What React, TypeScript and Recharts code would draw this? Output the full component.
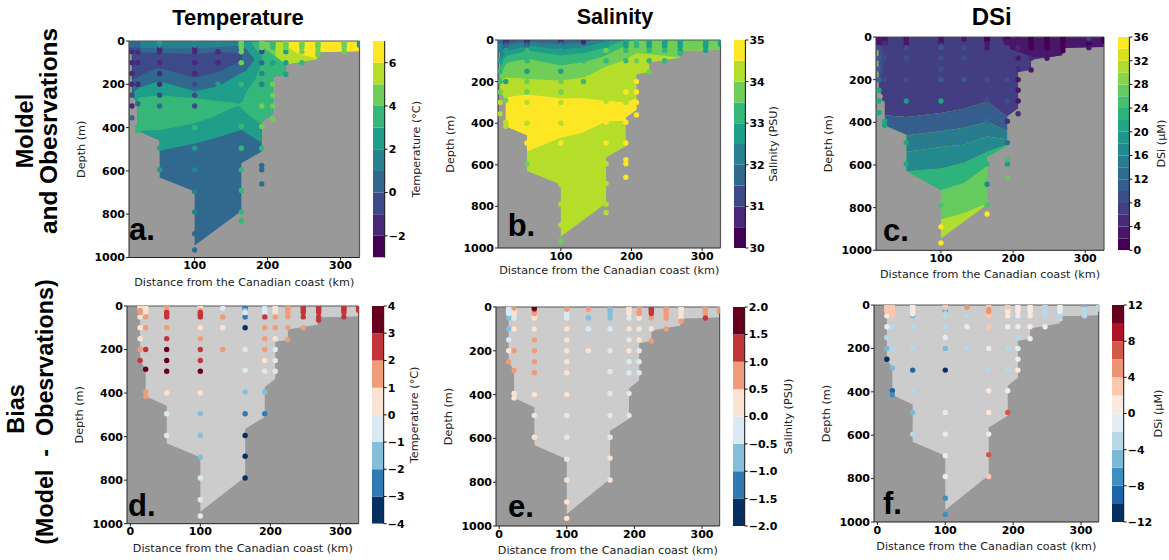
import React from 'react';
import { ComposedChart, Area, Scatter, XAxis, YAxis, ZAxis, CartesianGrid, ReferenceLine } from 'recharts';

const viridis10 = ['#440154', '#482878', '#3e4989', '#31688e', '#26828e', '#1f9e89', '#35b779', '#6ece58', '#b5de2b', '#fde725'];
const viridis18 = ['#440154', '#481769', '#472a7a', '#433d84', '#3d4e8a', '#355e8d', '#2e6d8e', '#297b8e', '#23898e', '#1f978b', '#21a585', '#2eb37c', '#46c06f', '#65cb5e', '#89d548', '#b0dd2f', '#d8e219', '#fde725'];
const rdbu8 = ['#053061', '#2f79b5', '#86bdda', '#dbeaf2', '#fbe3d4', '#f09c7b', '#c13639', '#67001f'];
const rdbu12 = ['#053061', '#1f63a8', '#3f8ec0', '#7eb8d7', '#b8d8e8', '#e4eef4', '#fae9df', '#fbc8af', '#ed9477', '#d25849', '#ae1328', '#67001f'];

const tempLevels = [-3, -2, -1, 0, 1, 2, 3, 4, 5, 6, 7];
const salLevels = [30, 30.5, 31, 31.5, 32, 32.5, 33, 33.5, 34, 34.5, 35];
const dsiLevels = [0, 2, 4, 6, 8, 10, 12, 14, 16, 18, 20, 22, 24, 26, 28, 30, 32, 34, 36];
const tempBiasLevels = [-4, -3, -2, -1, 0, 1, 2, 3, 4];
const salBiasLevels = [-2, -1.5, -1, -0.5, 0, 0.5, 1, 1.5, 2];
const dsiBiasLevels = [-12, -10, -8, -6, -4, -2, 0, 2, 4, 6, 8, 10, 12];

const tempTicks = [-2, 0, 2, 4, 6];
const salTicks = [30, 31, 32, 33, 34, 35];
const dsiTicks = [0, 4, 8, 12, 16, 20, 24, 28, 32, 36];
const tempBiasTicks = [-4, -3, -2, -1, 0, 1, 2, 3, 4];
const salBiasTicks = [-2, -1.5, -1, -0.5, 0, 0.5, 1, 1.5, 2];
const dsiBiasTicks = [-12, -8, -4, 0, 4, 8, 12];
const depthTicks = [0, 200, 400, 600, 800, 1000];
const kmTicksTop = [100, 200, 300];
const kmTicksBottom = [0, 100, 200, 300];

const stationKm = [14, 22, 52, 100, 132, 164, 192, 207, 225, 247, 269, 305, 326];
const stationDepths = [
  [5, 10, 20, 30, 50, 100, 150, 200, 250, 300, 355],
  [5, 10, 20, 30, 50, 100, 200, 290, 395, 415],
  [5, 10, 20, 30, 40, 50, 100, 150, 200, 250, 300, 400, 495, 595],
  [5, 10, 20, 30, 40, 50, 100, 150, 200, 250, 300, 400, 495, 595, 695, 790, 890, 965],
  [10, 50, 100, 200],
  [5, 10, 20, 30, 50, 100, 200, 295, 395, 495, 595, 690, 790, 830],
  [5, 10, 20, 30, 50, 100, 150, 200, 250, 300, 395, 495, 575, 595, 660],
  [5, 10, 20, 30, 50, 100, 150, 200, 250, 300, 360],
  [5, 10, 20, 30, 50, 100, 155],
  [5, 10, 20, 30, 50, 100],
  [5, 10, 20, 30, 50, 65],
  [5, 10, 20, 30, 50],
  [5, 10, 20],
];

const n = null;
const tempObs = [
  [.5, .5, 0, -.5, -1.5, -1.5, -1.5, -1.5, -.5, -1.5, .5],
  [.5, .5, 0, -.5, -1.5, -1.5, -1.5, .5, 3.5, 3.5],
  [2, 2, 1.5, -1.5, -1.5, -1.5, -1.5, -1.5, -1.5, -.5, 0, 3.5, 2.5, 2.5],
  [1.5, 1.5, 1, -1.5, -1.5, -1.5, -1.5, -1.5, -.5, -.5, -.5, 3.5, 2.5, 1.5, 1.5, 1.5, .5, .5],
  [1.5, -1.5, -1.5, 2.5],
  [4.5, 4.5, 4.5, 4.5, 4.5, 4.5, 3.5, 3.5, 3.5, 3.5, 3.5, 3.5, 3.5, 3.5],
  [4.5, 4.5, 4.5, 4.5, -.5, .5, 1.5, 1.5, n, 4.5, 4.5, 3.5, .5, .5, .5],
  [3.5, 3.5, 3.5, 3.5, n, 2.5, n, 4.5, 4.5, 4.5, 4.5],
  [4.5, 4.5, 4.5, 4.5, 2.5, 2.5, 2.5],
  [4.5, 4.5, 4.5, 4.5, 4.5, 3.5],
  [4.5, 4.5, 4.5, 4.5, 4.5, 4.5],
  [4.5, 4.5, 4.5, 4.5, 4.5],
  [2.5, 2.5, 2.5],
];
const salObs = [
  [31.5, 31.5, 31.8, 32, 32.3, 32.7, 33.3, 33.3, 33.7, 34.2, 34.2],
  [30.7, 30.7, 31, 31.5, 32.8, 33.3, 32.8, 33.8, 34.2, 34.2],
  [30.7, 30.7, 31, 31.5, 32.3, 33, 33.3, 32.8, 33.7, 33.7, 34.2, 34.2, 34.7, 33.7],
  [30.7, 30.7, 31.5, 32, 32.3, 32.7, 33.2, 32.8, 33.7, 33.7, 34.2, 34.2, 34.7, 34.2, 34.2, 34.2, 34.2, 33.8],
  [30.7, 32.7, 33.2, 33.3],
  [32, 32.2, 32.5, 32.7, 33.8, 33.3, 34.2, 34.2, 34.7, 34.7, 34.2, 34.2, 34.2, 34.2],
  [32.8, 32.8, 32.8, 32.8, 33.3, 33.2, n, n, 34.7, 34.2, 34.7, 34.7, 34.7, 34.7, 34.7],
  [33.3, 33.3, 33.3, 33.3, 33.5, 33.7, n, 34.7, 34.7, 34.7, 34.7],
  [32.7, 32.7, 32.7, 32.7, 33.3, 33.3, 33.7],
  [32.7, 32.7, 32.7, 32.7, 33.3, 33.3],
  [32.8, 32.8, 32.8, 32.8, 32.8, 33.2],
  [32.7, 32.7, 32.7, 32.7, 32.7],
  [32.5, 32.5, 32.5],
];
const dsiObs = [
  [3, 3, 3, 3, 9, 11, 11, 13, 20, 20, 20],
  [3, 3, 3, 5, 7, 9, 9, 7, 20, 20],
  [3, 3, 3, 3, 3, 9, 9, n, 9, n, 19, n, 20, 20],
  [3, 3, 3, 3, 7, 11, 9, 9, 11, n, 20, n, n, n, n, 24, 35, 35],
  [3, 9, 9, 11],
  [1, 1, 1, 3, 3, 7, 9, 9, 13, 17, 22, 17, 24, 35],
  [1, 1, 3, 3, 7, 7, n, 9, n, 9, 5, 13, 24, 18, 26],
  [3, 3, 3, 3, 5, 3, 5, 3, 3, 3, 5],
  [1, 1, 1, 1, 1, 5, 3],
  [1, 1, 1, 1, 1, 3],
  [1, 1, 1, 1, 1, 1],
  [7, 5, 1, 1, 3],
  [1, 1, 1],
];
const tempBias = [
  [.5, .5, 1.5, 1.5, .5, .5, .5, 1.5, 2.5, n, n],
  [.5, .5, .5, .5, 1.5, 1.5, 2.5, 3.5, 1.5, 1.5],
  [.5, 1, 1.5, 2.5, 2.5, 2.5, 1.5, 2.5, 3.5, 3.5, 3.5, .5, -.5, -.5],
  [.5, .5, 1.5, 2.5, 2.5, 2.5, .5, 1.5, 2.5, 2.5, 3.5, .5, -1.5, -1.5, -1.5, -.5, -.5, -.5],
  [-.5, 1.5, .5, 1.5],
  [-2.5, -2.5, -1.5, -.5, -2.5, -3.5, -.5, -.5, -1.5, -2.5, -3.5, -3.5, -3.5, n],
  [-1.5, -.5, -.5, -.5, 2.5, 1.5, 1.5, 1.5, .5, -.5, -1.5, -2.5, n, n, n],
  [.5, .5, .5, .5, 1.5, 1.5, .5, -.5, -.5, -.5, n],
  [1.5, 1.5, 1.5, 1.5, 1.5, 1.5, 1.5],
  [2.5, 2.5, 2.5, 2.5, 2.5, 1.5],
  [2.5, 2.5, 2.5, 2.5, 2.5, 2.5],
  [2.5, 2.5, 2.5, 2.5, 2.5],
  [2.5, 2.5, 2.5],
];
const salBias = [
  [-.25, -.25, -.25, -.25, -.75, -.75, -.25, .25, .75, n, n],
  [.75, .25, .25, .25, -.25, .25, .75, .75, .25, .25],
  [1.75, 1.25, .75, .75, .25, .25, .25, .75, .75, .75, .75, .25, .25, .25],
  [.75, .75, -.25, -.25, -.25, -.25, .25, .25, .25, .25, .25, .25, -.25, -.25, -.25, .25, .25, .25],
  [.75, -.75, -.25, .25],
  [-.75, -.75, -.75, -.75, -.75, -.25, -.25, -.25, -.25, -.25, -.25, .25, .25, n],
  [-.25, .25, .25, .25, -.25, .25, .25, .25, -.25, -.25, -.25, -.25, n, n, n],
  [.75, .25, .75, .75, .25, .25, .25, -.25, -.25, -.25, n],
  [1.25, 1.25, 1.25, 1.25, .75, .25, .75],
  [.75, .75, .75, .75, .75, .75],
  [.25, .25, .25, .25, .25, .75],
  [.75, .75, .75, .75, 1.25],
  [.75, .75, .75],
];
const dsiBias = [
  [3, 3, 3, 3, 1, -1, -3, -5, -11, n, n],
  [3, 3, 3, 3, 3, -3, -3, -5, -9, -7],
  [1, 1, 1, 1, 1, -5, -3, n, -3, n, -9, -3, -5, -3],
  [3, 3, -5, -7, -3, -3, -3, -1, -5, n, -11, n, -1, -1, -1, -1, -7, -7],
  [5, -3, -1, -3],
  [3, 3, 5, 5, 3, 3, -1, -3, 1, 1, -1, 7, 3, n],
  [1, 3, 1, 1, 1, -1, n, -3, n, -3, 1, 7, n, n, n],
  [1, 1, 1, 1, -1, -1, -3, -1, -1, 1, n],
  [1, 1, 1, 1, 1, 1, -1],
  [-3, -3, -3, -3, -3, -1],
  [-1, -1, -1, -1, -3, -3],
  [-5, -5, -3, -3, -3],
  [-3, -3, -3],
];

// section floor: distance (km), depth (m)
const sectionFloor = [[14, 250], [22, 290], [22, 415], [52, 458], [52, 630], [100, 695], [100, 945], [164, 785], [164, 565], [192, 510], [192, 372], [207, 335], [207, 165], [225, 155], [225, 108], [268, 85], [268, 52], [305, 50], [326, 47]];

// contour bands: distance (km), upper depth, lower depth
const tempTealBand = [[14, 0, 250], [22, 0, 290], [22, 0, 415], [52, 0, 458], [52, 0, 507], [100, 0, 473], [126, 0, 450], [164, 0, 411], [192, 0, 470], [192, 0, 372], [207, 0, 335], [207, 0, 165], [225, 0, 155], [225, 0, 108], [268, 0, 85], [268, 0, 52], [326, 0, 47]];
const tempLens = [[22, 262, 415], [52, 250, 412], [100, 265, 380], [126, 275, 350], [155, 285, 304], [164, 295, 296]];
const tempRightLobe = [[164, 295, 311], [170, 240, 330], [183, 178, 365], [192, 100, 388], [192, 0, 372], [207, 0, 335], [207, 0, 165], [225, 0, 155], [225, 0, 108], [268, 0, 85], [268, 0, 52], [326, 0, 47]];
const tempWedge = [[178, 0, 5], [181, 0, 25], [190, 0, 63], [192, 0, 70]];
const tempFour = [[190, 0, 0], [195, 0, 32], [211, 0, 71], [225, 0, 101], [225, 0, 108], [268, 0, 85], [268, 0, 52], [326, 0, 47]];
const tempFive = [[211, 0, 71], [225, 0, 108], [268, 0, 85], [268, 0, 52], [326, 0, 47]];
const tempSix = [[227, 0, 0], [229, 0, 32], [245, 0, 63], [268, 0, 80], [268, 0, 52], [326, 0, 47]];
const tempCold = [[14, 28, 245], [23, 30, 217], [51, 32, 186], [101, 32, 232], [133, 28, 209], [150, 22, 175], [165, 20, 145], [170, 35, 140], [181, 80, 92]];
const tempCore = [[14, 62, 180], [23, 55, 165], [32, 52, 148], [51, 55, 125], [101, 60, 170], [133, 50, 143], [156, 55, 105], [165, 65, 85]];
const tempSurface = [[14, 0, 30], [52, 0, 33], [100, 0, 33], [150, 0, 24], [172, 0, 0]];

const salSaltCore = [[22, 275, 415], [52, 262, 458], [52, 262, 536], [100, 280, 470], [131, 280, 445], [164, 292, 392], [192, 300, 388], [192, 300, 372], [207, 280, 335]];
const sal335 = [[14, 0, 200], [22, 0, 180], [53, 0, 187], [100, 0, 195], [133, 0, 180], [161, 0, 132], [192, 0, 94], [208, 0, 62], [267, 0, 83], [268, 0, 52], [326, 0, 47]];
const sal330 = [[14, 0, 170], [23, 0, 110], [54, 0, 90], [100, 0, 123], [133, 0, 106], [161, 0, 78], [187, 0, 35], [199, 0, 0]];
const sal325 = [[14, 0, 130], [23, 0, 78], [54, 0, 51], [100, 0, 74], [133, 0, 62], [161, 0, 38], [185, 0, 6], [190, 0, 0]];
const sal320 = [[14, 0, 95], [23, 0, 54], [54, 0, 26], [100, 0, 46], [133, 0, 34], [161, 0, 10], [168, 0, 0]];
const sal315 = [[14, 0, 60], [23, 0, 22], [54, 0, 10], [100, 0, 22], [133, 0, 10], [150, 0, 0]];
const sal310 = [[14, 0, 40], [23, 0, 15], [40, 0, 0]];

const dsi26 = [[100, 719, 856], [132, 684, 825], [164, 605, 781]];
const dsi22 = [[52, 630, 630], [100, 617, 719], [132, 589, 684], [164, 539, 605], [164, 539, 565], [192, 505, 510]];
const dsi18 = [[52, 539, 630], [100, 516, 617], [132, 505, 589], [164, 466, 539], [192, 481, 505]];
const dsi14 = [[52, 461, 539], [100, 442, 516], [132, 425, 505], [164, 398, 466], [192, 441, 481]];
const dsi10 = [[22, 367, 415], [52, 375, 458], [52, 375, 461], [100, 356, 442], [132, 336, 425], [164, 302, 398], [192, 375, 441]];
const dsi6 = [[14, 0, 250], [22, 0, 290], [22, 0, 367], [52, 0, 375], [100, 0, 356], [132, 0, 336], [164, 0, 302], [192, 0, 375], [192, 0, 372], [207, 0, 335], [207, 0, 165], [225, 0, 155], [225, 0, 108], [268, 0, 85], [268, 0, 52], [326, 0, 47]];
const dsiCoastStrip = [[14, 15, 235], [17, 50, 190], [20, 75, 130], [22, 97, 100]];
const dsiCoastTop = [[14, 0, 40], [26, 0, 40]];
const dsiShelfTop = [[184, 0, 3], [191, 0, 50], [223, 0, 89], [225, 0, 95], [247, 0, 96], [268, 0, 85], [268, 0, 52], [326, 0, 47]];

const fromFloor = (floor: number[][]) => floor.map(([x, d]) => [x, 0, d]);
const section = fromFloor(sectionFloor);

const v = viridis10;
const tempBands = [
  { fill: v[3], pts: section }, { fill: v[5], pts: tempTealBand }, { fill: v[6], pts: tempLens },
  { fill: v[6], pts: tempRightLobe }, { fill: v[6], pts: tempWedge }, { fill: v[7], pts: tempFour },
  { fill: v[8], pts: tempFive }, { fill: v[9], pts: tempSix }, { fill: v[3], pts: tempCold },
  { fill: v[2], pts: tempCore }, { fill: v[4], pts: tempSurface },
];
const salBands = [
  { fill: v[8], pts: section }, { fill: v[9], pts: salSaltCore }, { fill: v[7], pts: sal335 },
  { fill: v[6], pts: sal330 }, { fill: v[5], pts: sal325 }, { fill: v[4], pts: sal320 },
  { fill: v[3], pts: sal315 }, { fill: v[2], pts: sal310 },
];
const w = viridis18;
const dsiBands = [
  { fill: w[15], pts: section }, { fill: w[13], pts: dsi26 }, { fill: w[11], pts: dsi22 },
  { fill: w[8], pts: dsi18 }, { fill: w[7], pts: dsi14 }, { fill: w[5], pts: dsi10 },
  { fill: w[3], pts: dsi6 }, { fill: w[4], pts: dsiCoastStrip }, { fill: w[2], pts: dsiCoastTop }, { fill: w[1], pts: dsiShelfTop },
];
const biasBands = [{ fill: '#cccccc', pts: section }];

const FONT = '"DejaVu Sans", sans-serif';
const bold = { fontSize: 11, fontWeight: 'bold', fill: '#000', fontFamily: FONT };
const KM_LABEL = 'Distance from the Canadian coast (km)';
const labelStyle = { fontSize: 11.2, fill: '#222', fontFamily: FONT };

function Panel({ box, dom, kmTicks, bands, values, levels, colors, xLabelOffset = 10 }: any) {
  const [l, t, pw, ph] = box;
  const groups = colors.map((c: string, i: number) => {
    const pts: any[] = [];
    values.forEach((row: (number | null)[], s: number) => row.forEach((val, k) => {
      if (val === null) return;
      if (val >= levels[i] && (val < levels[i + 1] || i === colors.length - 1)) pts.push({ x: stationKm[s], y: stationDepths[s][k] });
    }));
    return { c, pts };
  }).filter((g: any) => g.pts.length);
  return (
    <div style={{ position: 'absolute', left: l - 60, top: t - 6 }}>
      <ComposedChart width={60 + pw + 6} height={6 + ph + 38} margin={{ top: 6, right: 6, left: 0, bottom: 0 }}>
        <CartesianGrid horizontal={false} vertical={false} fill="#999999" fillOpacity={1} />
        <XAxis type="number" dataKey="x" domain={dom} ticks={kmTicks} interval={0} allowDataOverflow height={38} tick={bold} tickSize={3} tickMargin={1} stroke="#222"
          label={{ value: KM_LABEL, position: 'insideBottom', offset: xLabelOffset, style: labelStyle }} />
        <YAxis type="number" dataKey="y" reversed domain={[0, 1000]} ticks={depthTicks} interval={0} allowDataOverflow width={60} tick={bold} tickSize={3} tickMargin={1} stroke="#222"
          label={{ value: 'Depth (m)', angle: -90, position: 'insideLeft', offset: 12, textAnchor: 'middle', style: labelStyle }} />
        <ZAxis range={[23, 23]} />
        {bands.map((b: any, i: number) => (
          <Area key={i} data={b.pts.map((p: number[]) => ({ x: p[0], r: [p[1], p[2]] }))} dataKey="r" type="linear" fill={b.fill} fillOpacity={1} stroke="none" dot={false} activeDot={false} isAnimationActive={false} />
        ))}
        <ReferenceLine y={0} stroke="#555" strokeWidth={1.2} />
        <ReferenceLine x={dom[1]} stroke="#555" strokeWidth={1.2} />
        {groups.map((g: any, i: number) => (
          <Scatter key={i} data={g.pts} fill={g.c} isAnimationActive={false} />
        ))}
      </ComposedChart>
    </div>
  );
}

function ColorBar({ box, levels, colors, ticks, title, labelOffset }: any) {
  const [l, t, bw, bh] = box;
  const fmt = (x: number) => {
    const s = Number.isInteger(x) && !ticks.some((k: number) => !Number.isInteger(k)) ? String(Math.abs(x)) : Math.abs(x).toFixed(1);
    return (x < 0 ? '\u2212' : '') + s;
  };
  return (
    <div style={{ position: 'absolute', left: l, top: t - 6 }}>
      <ComposedChart width={bw + 52} height={bh + 12} margin={{ top: 6, right: 0, left: 0, bottom: 6 }}>
        <XAxis type="number" dataKey="x" domain={[0, 1]} hide />
        <YAxis type="number" orientation="right" domain={[levels[0], levels[levels.length - 1]]} ticks={ticks} interval={0} allowDataOverflow width={52} tick={bold} tickFormatter={fmt} tickSize={3} tickMargin={1} stroke="#111"
          label={{ value: title, angle: -90, position: 'insideLeft', offset: labelOffset, textAnchor: 'middle', style: labelStyle }} />
        {colors.map((c: string, i: number) => (
          <Area key={i} data={[{ x: 0, r: [levels[i], levels[i + 1]] }, { x: 1, r: [levels[i], levels[i + 1]] }]} dataKey="r" type="linear" fill={c} fillOpacity={1} stroke="none" dot={false} activeDot={false} isAnimationActive={false} />
        ))}
      </ComposedChart>
    </div>
  );
}

const titleFont = '"Liberation Sans", Arial, sans-serif';
const Big = ({ x, y, size, children }: any) => (
  <text x={x} y={y} textAnchor="middle" dominantBaseline="central" fontFamily={titleFont} fontWeight="bold" fontSize={size} fill="#000" style={{ whiteSpace: 'pre' }}>{children}</text>
);
const Side = ({ x, y, size, children }: any) => (
  <text transform={`translate(${x} ${y}) rotate(-90)`} textAnchor="middle" dominantBaseline="central" fontFamily={titleFont} fontWeight="bold" fontSize={size} fill="#000" style={{ whiteSpace: 'pre' }}>{children}</text>
);
const Letter = ({ x, y, children }: any) => (
  <text x={x} y={y} fontFamily={titleFont} fontWeight="bold" fontSize={31} fill="#000">{children}</text>
);

export default function App() {
  return (
    <div style={{ position: 'absolute', left: 0, top: 0, width: 1169, height: 560, overflow: 'hidden', background: '#fff', fontFamily: FONT }}>
      <Panel box={[128.5, 41, 230.5, 216.5]} dom={[10, 326]} kmTicks={kmTicksTop} bands={tempBands} values={tempObs} levels={tempLevels} colors={viridis10} />
      <Panel box={[498, 40, 222.5, 208]} dom={[11, 326]} kmTicks={kmTicksTop} bands={salBands} values={salObs} levels={salLevels} colors={viridis10} xLabelOffset={12} />
      <Panel box={[876.3, 36.7, 228, 213.3]} dom={[10, 326]} kmTicks={kmTicksTop} bands={dsiBands} values={dsiObs} levels={dsiLevels} colors={viridis18} />
      <Panel box={[126.7, 306.3, 231.6, 217.7]} dom={[-4.7, 326]} kmTicks={kmTicksBottom} bands={biasBands} values={tempBias} levels={tempBiasLevels} colors={rdbu8} />
      <Panel box={[495.7, 307.3, 223.6, 219]} dom={[-4.7, 326]} kmTicks={kmTicksBottom} bands={biasBands} values={salBias} levels={salBiasLevels} colors={rdbu8} />
      <Panel box={[874, 305.3, 224.7, 217]} dom={[-5, 326]} kmTicks={kmTicksBottom} bands={biasBands} values={dsiBias} levels={dsiBiasLevels} colors={rdbu12} />

      <ColorBar box={[373.3, 41, 11.7, 216.5]} levels={tempLevels} colors={viridis10} ticks={tempTicks} title="Temperature (°C)" labelOffset={31} />
      <ColorBar box={[734.3, 40, 11.4, 208]} levels={salLevels} colors={viridis10} ticks={salTicks} title="Salinity (PSU)" labelOffset={28} />
      <ColorBar box={[1118.3, 36.7, 11.4, 213.3]} levels={dsiLevels} colors={viridis18} ticks={dsiTicks} title="DSi (µM)" labelOffset={32} />
      <ColorBar box={[372.3, 306.3, 11.7, 217.7]} levels={tempBiasLevels} colors={rdbu8} ticks={tempBiasTicks} title="Temperature (°C)" labelOffset={30} />
      <ColorBar box={[733.3, 307.3, 11.7, 219]} levels={salBiasLevels} colors={rdbu8} ticks={salBiasTicks} title="Salinity (PSU)" labelOffset={43} />
      <ColorBar box={[1112.3, 305.3, 11.7, 217]} levels={dsiBiasLevels} colors={rdbu12} ticks={dsiBiasTicks} title="DSi (µM)" labelOffset={34.7} />

      <svg width={1169} height={560} style={{ position: 'absolute', left: 0, top: 0, pointerEvents: 'none' }}>
        <Big x={238} y={17} size={22}>Temperature</Big>
        <Big x={615} y={17} size={21.5}>Salinity</Big>
        <Big x={991.7} y={16} size={24}>DSi</Big>
        <Side x={25} y={131} size={23.5}>Moldel</Side>
        <Side x={48} y={131} size={24.4}>and Obesrvations</Side>
        <Side x={16} y={409} size={23.5}>Bias</Side>
        <Side x={45} y={412} size={23.3}>{'(Model  -  Obesrvations)'}</Side>
        <Letter x={129} y={240}>a.</Letter>
        <Letter x={507.7} y={236}>b.</Letter>
        <Letter x={883} y={241}>c.</Letter>
        <Letter x={128} y={516}>d.</Letter>
        <Letter x={508} y={517}>e.</Letter>
        <Letter x={883} y={514}>f.</Letter>
      </svg>
    </div>
  );
}
